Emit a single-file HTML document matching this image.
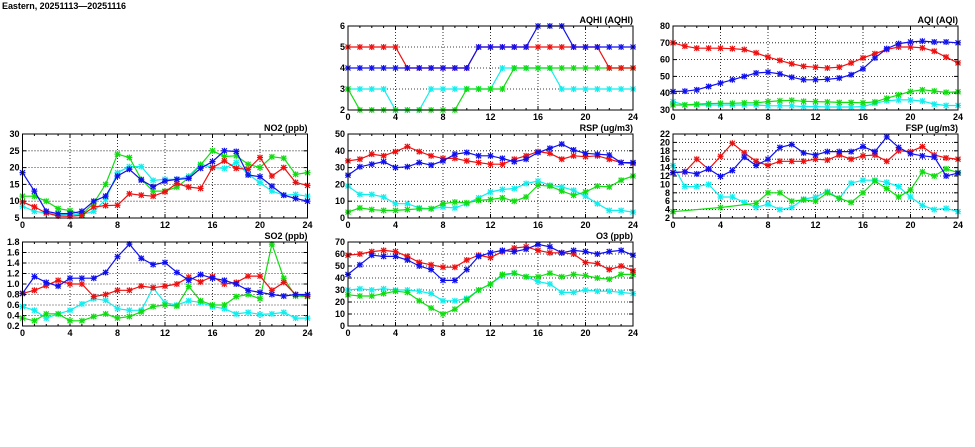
<!DOCTYPE html>
<html><head><meta charset="utf-8"><style>
body{margin:0;background:#fff;width:975px;height:447px;overflow:hidden}
svg{display:block}
text{font-family:"Liberation Sans",sans-serif;font-weight:bold;font-size:9px;fill:#000}
</style></head><body>
<svg id="s" width="975" height="447" xmlns="http://www.w3.org/2000/svg">
<text x="2" y="9" style="font-size:9px" textLength="124">Eastern, 20251113—20251116</text>
</svg>
<script>
const N=null;
const C={b:"#1010ee",r:"#ee1010",g:"#10dd10",c:"#10eeee"};
const P=[
{t:"NO2 (ppb)",x:22.5,y:134,lo:5,hi:30,st:5,d:1,s:{
c:[8.5,7,6.5,6,6,6,7,10.5,18.5,20.3,20.3,16.2,16.5,16.5,17.5,21,20,19.8,21.5,18,15.5,13,11.8,12,11.5],
g:[11.5,11.5,10,7.8,7.2,6,9.5,15,24,23,16.5,13,13,14.2,17,20.8,25,23.3,23.5,21,20,23.2,22.8,18,18.5],
r:[9.8,8.3,6.5,5.6,5.5,5.8,8.3,8.7,8.8,12.2,11.8,11.5,12.8,15.3,14.2,13.8,20,22,19.8,19.5,23,17.5,20,15.6,14.7],
b:[18.5,13,7,6.3,6.3,7,10,11.5,17.5,19.5,16.3,14.3,16,16.5,16.8,19.8,21.8,25,24.8,17.8,17.3,14.5,11.8,10.8,10]}},
{t:"SO2 (ppb)",x:22.5,y:242,lo:0.2,hi:1.8,st:0.2,d:1,f:1,s:{
c:[.57,.5,.35,.43,.5,.62,.72,.69,.53,.5,.5,.93,.64,.6,.68,.65,.57,.53,.43,.46,.42,.43,.46,.35,.35],
g:[.35,.3,.43,.43,.3,.3,.38,.43,.35,.38,.47,.57,.6,.58,.95,.68,.6,.6,.76,.8,.72,1.76,1.11,.77,.76],
r:[.82,.88,.97,1.07,1,1,.76,.8,.88,.88,.96,.93,.96,1,1.13,1.04,1.14,1,1.03,1.15,1.15,.88,1.03,.8,.77],
b:[.82,1.14,1.03,.96,1.11,1.11,1.11,1.22,1.52,1.76,1.49,1.37,1.41,1.22,1.07,1.18,1.11,1.07,1,.88,.84,.8,.77,.8,.8]}},
{t:"AQHI (AQHI)",x:348,y:26,lo:2,hi:6,st:1,s:{
c:[3,3,3,3,2,2,2,3,3,3,3,3,3,4,4,4,4,4,3,3,3,3,3,3,3],
g:[3,2,2,2,2,2,2,2,2,2,3,3,3,3,4,4,4,4,4,4,4,4,4,4,4],
b:[4,4,4,4,4,4,4,4,4,4,4,5,5,5,5,5,6,6,6,5,5,5,5,5,5],
r:[5,5,5,5,5,4,4,4,4,4,4,5,5,5,5,5,5,5,5,5,5,5,4,4,4]}},
{t:"RSP (ug/m3)",x:348,y:134,lo:0,hi:50,st:10,s:{
c:[19,14,14,12.5,8.5,8.5,6,5.5,6.5,6,8.5,12,15.5,17,17.5,20.5,22,19.5,18.5,16.5,13,8.5,4.5,4.5,3.5],
g:[3.5,6,5,4.5,4.5,5,5.5,5.5,8.5,9.5,9,10.5,11,12,10,12.5,19.5,19,16,13.5,15.5,19,18.5,22.5,25],
r:[34,35,38,37,39.5,42.5,39.5,37,35.5,35.5,34,33,32,32,35,37,39.5,38.5,35,37,36.5,37,35,33,32.5],
b:[25.5,30.5,32,33.5,30,30.5,33,31.5,34,38,39,37,37,35.5,33.5,35,39,41.5,44,40.5,38.5,38,37.5,33,33]}},
{t:"O3 (ppb)",x:348,y:242,lo:0,hi:70,st:10,s:{
c:[30,31,30,31,30,30,29,27,21,21,23,30,35,42,44,41,37,35,28,28,30,29,29,28,27],
g:[26,25,25,27,29,28,21,15,10,14,22,30,35,43,44,41,41,44,41,43,42,40,39,43,43],
r:[59,60,62,63,62,58,53,51,49,49,55,59,57,62,65,66,63,61,61,60,53,52,47,50,46],
b:[43,51,59,58,58,55,50,47,38,38,47,58,61,63,62,64,68,66,61,63,62,60,62,63,59]}},
{t:"AQI (AQI)",x:673,y:26,lo:30,hi:80,st:10,s:{
c:[35,33,33,33,33,33,33,33,32.5,32.5,32.5,32,32,31.8,31.8,31.8,32,34,35.5,36,36,35.3,33.5,32.7,32.7],
g:[33,33,33.5,33.8,34,34,34.2,34.3,35,35.5,35.8,35.2,35,34.8,34.5,34.5,34.3,34.8,37,39,41,42,41.3,40.5,40.8],
r:[70,68,66.8,66.8,66.8,66.5,66,64,61.5,59.5,57.5,56,55.5,55,55.5,58,61,63.5,66,67.5,67.5,67,65,61.5,58],
b:[41,41.2,42,44,46,48,50,52,52.5,51.5,49.5,48,48,48.3,49,51,54.5,61,66.5,69.5,70.5,71,70.5,70.5,70]}},
{t:"FSP (ug/m3)",x:673,y:134,lo:2,hi:22,st:2,s:{
c:[14.5,9.5,9.5,10,7,7,5.7,4.5,5.3,4,4.5,6.5,7,8.3,6.7,10.3,11,11,10.5,9.5,7,5,4,4.3,3.5],
g:[3.5,N,N,N,4.5,N,N,5.5,8,8,6,6.3,6,8,6.7,5.7,8,10.8,9,7,8.7,13,12,13.7,12.8],
r:[12.8,13,16,13.6,16.7,19.8,17.5,15.5,14.5,15.5,15.5,15.5,16,15.8,17,16,16.8,17,15.5,18,17.8,19,17,16.3,16],
b:[12.8,13,12.5,13.7,11.9,13.3,16.5,14.5,16,18.8,19.5,17.5,17,17.8,17.8,17.8,19,17.8,21.3,18.8,17.3,16.8,16.5,12,12.7]}}
];
const W=285,H=84;let o="";
for(const p of P){
 const X=i=>p.x+i*W/24,Y=v=>p.y+H-(v-p.lo)/(p.hi-p.lo)*H;
 o+=`<text x="${p.x+W}" y="${p.y-3}" text-anchor="end">${p.t}</text>`;
 for(let v=p.lo;v<=p.hi+1e-9;v+=p.st){const y=Y(v).toFixed(1);
  if(v>p.lo+1e-9&&v<p.hi-1e-9)o+=`<line x1="${p.x}" x2="${p.x+W}" y1="${y}" y2="${y}" stroke="#000" stroke-width="0.8" stroke-dasharray="1,2"/>`;
  o+=`<line x1="${p.x}" x2="${p.x+4}" y1="${y}" y2="${y}" stroke="#000"/><line x1="${p.x+W-4}" x2="${p.x+W}" y1="${y}" y2="${y}" stroke="#000"/>`;
  o+=`<text x="${p.x-3}" y="${+y+3}" text-anchor="end">${p.f?v.toFixed(1):Math.round(v)}</text>`;}
 for(let i=0;i<=24;i++){const x=X(i).toFixed(1);
  if(i%4==0){if(i>0&&i<24)o+=`<line x1="${x}" x2="${x}" y1="${p.y}" y2="${p.y+H}" stroke="#000" stroke-width="0.8" stroke-dasharray="1,2"/>`;
   o+=`<text x="${x}" y="${p.y+H+10}" text-anchor="middle">${i}</text>`;}
  const l=i%4==0?4:2;o+=`<line x1="${x}" x2="${x}" y1="${p.y+H}" y2="${p.y+H-l}" stroke="#000"/><line x1="${x}" x2="${x}" y1="${p.y}" y2="${p.y+l}" stroke="#000"/>`;}
 for(const k of ["c","g","r","b"]){const d=p.s[k];if(!d)continue;let pts=[];
  d.forEach((v,i)=>{if(v!==null)pts.push([X(i),Y(v)])});
  o+=`<polyline fill="none" stroke="${C[k]}" stroke-width="1.2" points="${pts.map(q=>q[0].toFixed(1)+","+q[1].toFixed(1)).join(" ")}"/>`;
  for(const [x,y] of pts){o+=`<path d="M${x-3},${y}h6M${x},${y-3}v6M${x-2.5},${y-2.5}l5,5M${x-2.5},${y+2.5}l5,-5" stroke="${C[k]}" stroke-width="1.2"/>`;}
 }
 o+=`<rect x="${p.x}" y="${p.y}" width="${W}" height="${H}" fill="none" stroke="#000" stroke-width="1"/>`;
}
document.getElementById("s").insertAdjacentHTML("beforeend",o);
</script>
</body></html>
